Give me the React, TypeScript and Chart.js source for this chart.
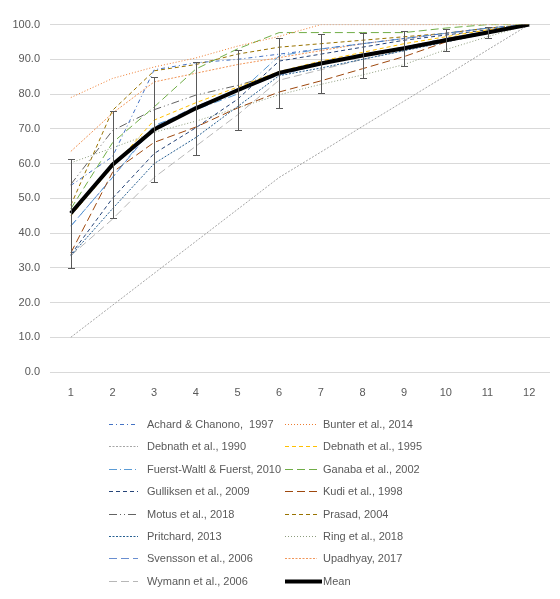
import { useEffect, useRef } from "react";
import { Chart, registerables } from "chart.js";
Chart.register(...registerables);

const categories = ["1", "2", "3", "4", "5", "6", "7", "8", "9", "10", "11", "12"];

const achard = [53.7, 62, 87, 89, 90, 91.5, 93, 94.5, 96, 97.5, 99, 100];
const bunter = [79, 84.5, 87.8, 90.4, 93.8, 96.6, 100, 100, 100, 100, 100, 100];
const debnath1990 = [10, 19.2, 28.4, 37.6, 46.8, 56, 63.3, 70.7, 78, 85.3, 92.7, 100];
const debnath1995 = [45, 59, 72.5, 77.5, 82, 86.5, 89.5, 92, 94.5, 96.5, 98.5, 100];
const fuerst = [42, 56, 71, 75.5, 80, 91, 93, 94.5, 96, 97.5, 99, 100];
const ganaba = [47, 66, 76.3, 87.2, 93, 97.7, 97.7, 97.7, 97.7, 99, 100, 100];
const gulliksen = [33.8, 50, 62.9, 70.3, 78.5, 89.5, 91.5, 93.5, 95.5, 97, 98.5, 100];
const kudi = [34.3, 57.5, 66.1, 70.5, 76, 80.6, 83.8, 87.3, 90.8, 95, 98, 100];
const motus = [54, 69.5, 75.5, 79.7, 82.5, 86, 89, 91.5, 93.5, 96, 98, 100];
const prasad = [48, 75.3, 86.7, 88.5, 91.5, 93.5, 94.5, 95.5, 96.5, 97.5, 99, 100];
const pritchard = [33.5, 47, 60, 67.5, 76.4, 85.3, 87.5, 90, 92.5, 95, 97.5, 100];
const ring = [60.2, 64.5, 69, 72.2, 76, 79.8, 82.8, 85.5, 88.5, 92.8, 96.5, 100];
const svensson = [42, 56, 70.5, 76.5, 81, 85.5, 88.5, 91, 93.5, 96, 98, 100];
const upadhyay = [63.5, 74.5, 83.5, 86, 88.5, 90.5, 92.5, 94.5, 96, 97.5, 99, 100];
const wymann = [33.5, 44, 56, 65, 74, 84, 87, 90, 92.5, 95, 97.5, 100];
const meanValues = [45.7, 59.7, 69.8, 75.9, 81.1, 86.1, 88.8, 91.1, 93.2, 95.5, 97.7, 100];
const meanSd = [15.7, 15.3, 15.2, 13.3, 11.5, 10.0, 8.4, 6.6, 5.1, 3.2, 1.7, 0];

const seriesList: [string, number[], string, number[]][] = [
  ["Achard & Chanono,  1997", achard, "#4472C4", [4, 3, 1, 3]],
  ["Bunter et al., 2014", bunter, "#ED7D31", [1, 2]],
  ["Debnath et al., 1990", debnath1990, "#A5A5A5", [2, 1.5]],
  ["Debnath et al., 1995", debnath1995, "#FFC000", [4, 3]],
  ["Fuerst-Waltl & Fuerst, 2010", fuerst, "#5B9BD5", [8, 3, 1, 3]],
  ["Ganaba et al., 2002", ganaba, "#70AD47", [8, 4]],
  ["Gulliksen et al., 2009", gulliksen, "#264478", [4, 3]],
  ["Kudi et al., 1998", kudi, "#9E480E", [8, 4]],
  ["Motus et al., 2018", motus, "#636363", [8, 3, 1, 3, 1, 3]],
  ["Prasad, 2004", prasad, "#997300", [4, 3]],
  ["Pritchard, 2013", pritchard, "#255E91", [2, 1.5]],
  ["Ring et al., 2018", ring, "#8C9C7C", [1, 2]],
  ["Svensson et al., 2006", svensson, "#698ED0", [8, 4]],
  ["Upadhyay, 2017", upadhyay, "#F1975A", [2, 1.5]],
  ["Wymann et al., 2006", wymann, "#B7B7B7", [8, 4]],
];

const TEXT = "#595959";
const FONT = '"Liberation Sans", Arial, sans-serif';

const errorBarPlugin = {
  id: "errorBars",
  afterDatasetsDraw(chart: any) {
    const { ctx, scales } = chart;
    const xs = scales.x;
    const ys = scales.y;
    ctx.save();
    ctx.strokeStyle = "#595959";
    ctx.lineWidth = 1;
    ctx.setLineDash([]);
    meanValues.forEach((m, i) => {
      const sd = meanSd[i];
      if (!sd) return;
      const x = Math.round(xs.getPixelForValue(i)) + 0.5;
      const yt = Math.round(ys.getPixelForValue(m + sd)) + 0.5;
      const yb = Math.round(ys.getPixelForValue(m - sd)) + 0.5;
      ctx.beginPath();
      ctx.moveTo(x, yt);
      ctx.lineTo(x, yb);
      ctx.moveTo(x - 3.5, yt);
      ctx.lineTo(x + 3.5, yt);
      ctx.moveTo(x - 3.5, yb);
      ctx.lineTo(x + 3.5, yb);
      ctx.stroke();
    });
    ctx.restore();
  },
};

const legendPlugin = {
  id: "gridLegend",
  afterDraw(chart: any) {
    const ctx = chart.ctx;
    const ds = chart.data.datasets;
    ctx.save();
    ctx.font = "11px " + FONT;
    ctx.textBaseline = "middle";
    ctx.textAlign = "left";
    ds.forEach((d: any, i: number) => {
      const col = i % 2;
      const row = Math.floor(i / 2);
      const y = Math.round(416 + row * 22.4) + 0.5;
      const x0 = col ? 277 : 101;
      const x1 = col ? (d.borderWidth > 2 ? 314 : 309) : 130;
      const tx = col ? 315 : 139;
      ctx.beginPath();
      ctx.setLineDash(d.borderDash || []);
      ctx.strokeStyle = d.borderColor;
      ctx.lineWidth = d.borderWidth;
      ctx.moveTo(x0, y);
      ctx.lineTo(x1, y);
      ctx.stroke();
      ctx.setLineDash([]);
      ctx.fillStyle = TEXT;
      ctx.fillText(d.label, tx, y);
    });
    ctx.restore();
  },
};

export default function App() {
  const ref = useRef<HTMLCanvasElement>(null);
  useEffect(() => {
    if (!ref.current) return;
    const datasets: any[] = seriesList.map(([label, data, color, dash]) => ({
      label,
      data,
      borderColor: color,
      backgroundColor: color,
      borderDash: dash,
      borderWidth: 1,
      pointRadius: 0,
      tension: 0,
      fill: false,
      order: 1,
    }));
    datasets.push({
      label: "Mean",
      data: meanValues,
      borderColor: "#000000",
      backgroundColor: "#000000",
      borderDash: [],
      borderWidth: 4,
      pointRadius: 0,
      tension: 0,
      fill: false,
      order: 0,
    });
    const chart = new Chart(ref.current, {
      type: "line",
      data: { labels: categories, datasets },
      options: {
        animation: false,
        responsive: false,
        layout: { padding: { left: 0, right: 2, top: 8, bottom: 189 } },
        plugins: { legend: { display: false }, tooltip: { enabled: false } },
        scales: {
          x: {
            type: "category",
            offset: true,
            grid: { display: false, drawTicks: false },
            border: { display: false },
            ticks: { color: TEXT, font: { size: 11, family: FONT }, padding: 14, maxRotation: 0 },
            afterFit: (a: any) => { a.height = 30; },
          },
          y: {
            min: 0,
            max: 100,
            grid: { color: "#D9D9D9", drawTicks: false, lineWidth: 1 },
            border: { display: false },
            ticks: {
              stepSize: 10,
              color: TEXT,
              font: { size: 11, family: FONT },
              padding: 10,
              callback: (v: any) => Number(v).toFixed(1),
            },
            afterFit: (a: any) => { a.width = 42; },
          },
        },
      },
      plugins: [errorBarPlugin, legendPlugin],
    });
    return () => chart.destroy();
  }, []);
  return (
    <div style={{ width: 544, height: 583 }}>
      <canvas ref={ref} width={544} height={583} style={{ display: "block" }} />
    </div>
  );
}
